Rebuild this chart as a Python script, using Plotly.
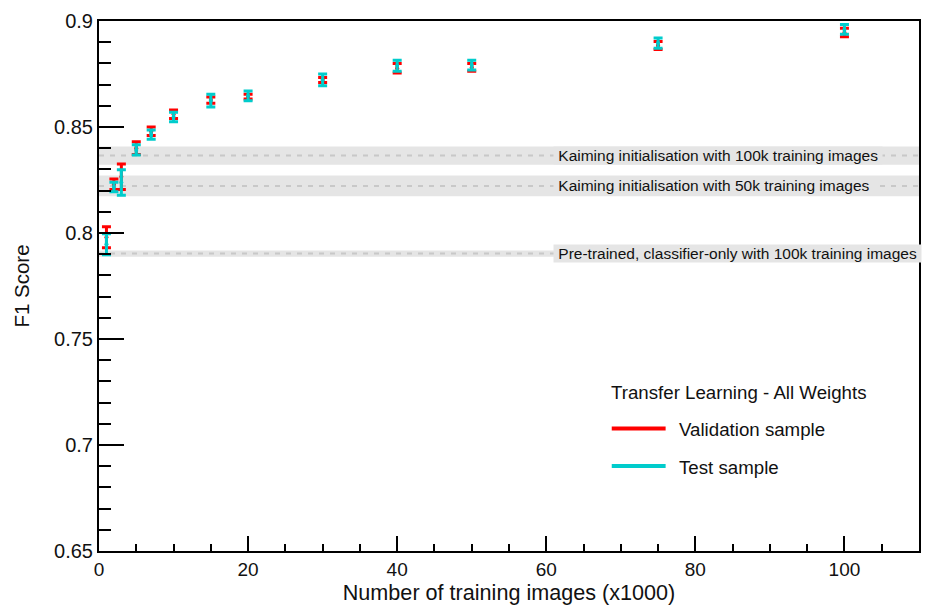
import plotly.graph_objects as go

# Training-set size (thousands of images)
n_train_k = [1, 2, 3, 5, 7, 10, 15, 20, 30, 40, 50, 75, 100]

# Transfer learning (all weights) F1 scores
val_f1 = [0.798, 0.823, 0.8265, 0.840, 0.848, 0.856, 0.8627, 0.8643, 0.8722, 0.8777, 0.8781, 0.8884, 0.8946]
val_err = [0.005, 0.0025, 0.006, 0.003, 0.002, 0.002, 0.0015, 0.0011, 0.0012, 0.0022, 0.0018, 0.0019, 0.002]
test_f1 = [0.7947, 0.8217, 0.8238, 0.8392, 0.8464, 0.8547, 0.8624, 0.8647, 0.8722, 0.8789, 0.8792, 0.8896, 0.896]
test_err = [0.005, 0.0022, 0.006, 0.0024, 0.0022, 0.0022, 0.003, 0.0023, 0.0028, 0.0026, 0.0023, 0.0024, 0.0023]

# Reference baselines: label, central value, uncertainty
baseline_labels = [
    "Kaiming initialisation with 100k training images",
    "Kaiming initialisation with 50k training images",
    "Pre-trained, classifier-only with 100k training images",
]
baseline_f1 = [0.8365, 0.8222, 0.7903]
baseline_err = [0.0043, 0.0049, 0.0015]

y_tick_vals = [0.65, 0.7, 0.75, 0.8, 0.85, 0.9]
y_tick_text = ["0.65", "0.7", "0.75", "0.8", "0.85", "0.9"]
x_tick_vals = [0, 20, 40, 60, 80, 100]
x_tick_text = ["0", "20", "40", "60", "80", "100"]

legend_title = "Transfer Learning - All Weights"
series_names = ["Validation sample", "Test sample"]

RED = "#ff0000"
CYAN = "#00cccc"
FONT = "Liberation Sans, Arial, sans-serif"
X_MAX = 110

fig = go.Figure()

shapes = []
annotations = []

# Baseline bands with dashed central lines
for lab, v, e in zip(baseline_labels, baseline_f1, baseline_err):
    shapes.append(dict(type="rect", xref="x", yref="y", x0=0, x1=X_MAX, y0=v - e, y1=v + e,
                       fillcolor="#e5e5e5", line=dict(width=0), layer="below"))
    shapes.append(dict(type="line", xref="x", yref="y", x0=0, x1=X_MAX, y0=v, y1=v,
                       line=dict(color="#c8c8c8", width=2, dash="5px,6px"), layer="below"))
    annotations.append(dict(x=60.9, y=v, xref="x", yref="y", xanchor="left", yanchor="middle",
                            text="\u00a0" + lab + "\u00a0", showarrow=False, bgcolor="#e5e5e5",
                            borderpad=0, font=dict(family=FONT, size=15.5, color="#111111")))

for name, ys, errs, col in [(series_names[0], val_f1, val_err, RED),
                            (series_names[1], test_f1, test_err, CYAN)]:
    fig.add_trace(go.Scatter(
        x=n_train_k, y=ys, mode="markers", name=name, showlegend=False,
        marker=dict(color=col, size=4),
        error_y=dict(type="data", array=errs, visible=True, color=col, thickness=3, width=4.5),
    ))

# Legend block
leg_x0, leg_x1 = 0.6253, 0.691
annotations.append(dict(x=0.6217, y=0.2985, xref="paper", yref="paper", xanchor="left",
                        yanchor="middle", text=legend_title, showarrow=False,
                        font=dict(family=FONT, size=18.7, color="#111111")))
for name, col, yl in [(series_names[0], RED, 0.2309), (series_names[1], CYAN, 0.1604)]:
    shapes.append(dict(type="line", xref="paper", yref="paper", x0=leg_x0, x1=leg_x1, y0=yl, y1=yl,
                       line=dict(color=col, width=4)))
    annotations.append(dict(x=0.7044, y=yl - 0.002, xref="paper", yref="paper", xanchor="left",
                            yanchor="middle", text=name, showarrow=False,
                            font=dict(family=FONT, size=18.7, color="#111111")))

fig.update_layout(
    width=926, height=606,
    margin=dict(l=99, r=5, t=21, b=55, pad=0),
    paper_bgcolor="white", plot_bgcolor="white",
    font=dict(family=FONT, size=20, color="#111111"),
    shapes=shapes, annotations=annotations,
    showlegend=False,
)
fig.update_xaxes(
    range=[0, X_MAX], tickvals=x_tick_vals, ticktext=x_tick_text,
    ticks="inside", ticklen=15, tickwidth=2, tickcolor="black",
    minor=dict(ticks="inside", dtick=5, tick0=0, ticklen=7, tickwidth=2, tickcolor="black", showgrid=False),
    showline=True, linecolor="black", linewidth=2, mirror=True,
    showgrid=False, zeroline=False,
    tickfont=dict(family=FONT, size=19),
    title=dict(text="Number of training images (x1000)", font=dict(family=FONT, size=21.6), standoff=4),
)
fig.update_yaxes(
    range=[0.65, 0.9], tickvals=y_tick_vals, ticktext=y_tick_text,
    ticks="inside", ticklen=25, tickwidth=2, tickcolor="black",
    minor=dict(ticks="inside", dtick=0.01, tick0=0.65, ticklen=12, tickwidth=2, tickcolor="black", showgrid=False),
    showline=True, linecolor="black", linewidth=2, mirror=True,
    showgrid=False, zeroline=False,
    tickfont=dict(family=FONT, size=20),
    title=dict(text="F1 Score", font=dict(family=FONT, size=20.5), standoff=19),
)

fig.write_html("out.html")
